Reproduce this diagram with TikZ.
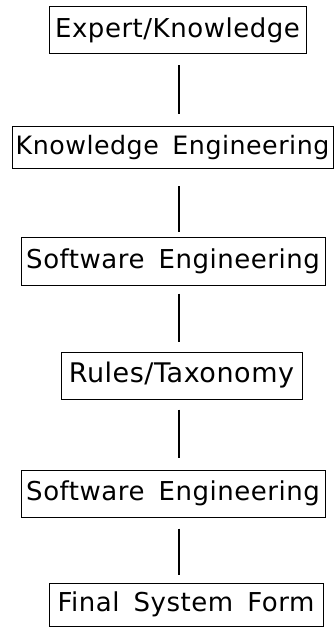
\documentclass[tikz,border=0pt]{standalone}
\usepackage{fontspec}
\setmainfont{DejaVu Sans}[LetterSpace=2.0, WordSpace=1.6]
\begin{document}
\begin{tikzpicture}[x=1pt,y=-1pt,
  stage/.style={draw, line width=1pt, inner sep=0pt, anchor=center,
    font=\fontsize{26}{30}\selectfont},
  link/.style={line width=1.1pt}]
\useasboundingbox (0,0) rectangle (336,628);
\coordinate (spine) at (179,0);
\node[stage, minimum width=257pt, minimum height=47pt] (b1) at (177.5,30.5) {Expert/Knowledge};
\node[stage, minimum width=321pt, minimum height=42pt, font=\fontsize{25.3}{30}\selectfont] (b2) at (172.5,148) {Knowledge Engineering};
\node[stage, minimum width=304pt, minimum height=48pt] (b3) at (173,261) {Software Engineering};
\node[stage, minimum width=241pt, minimum height=47pt, font=\fontsize{27}{30}\selectfont] (b4) at (181.5,375.5) {Rules/Taxonomy};
\node[stage, minimum width=304pt, minimum height=47pt] (b5) at (173,493.5) {Software Engineering};
\node[stage, minimum width=274pt, minimum height=43pt] (b6) at (186,604.5) {Final System Form};
\draw[link, shorten <=11pt, shorten >=12pt] (b1.south -| spine) -- (b2.north -| spine);
\draw[link, shorten <=17pt, shorten >=5pt] (b2.south -| spine) -- (b3.north -| spine);
\draw[link, shorten <=8pt, shorten >=10pt] (b3.south -| spine) -- (b4.north -| spine);
\draw[link, shorten <=10pt, shorten >=12pt] (b4.south -| spine) -- (b5.north -| spine);
\draw[link, shorten <=11pt, shorten >=8pt] (b5.south -| spine) -- (b6.north -| spine);
\end{tikzpicture}
\end{document}
